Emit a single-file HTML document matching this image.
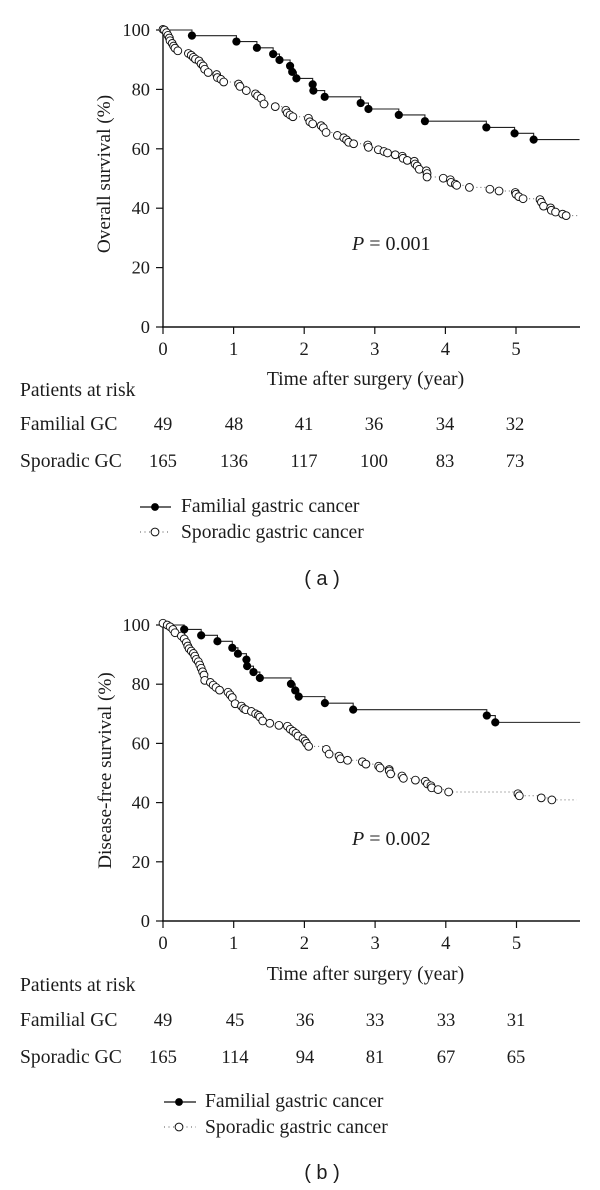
<!DOCTYPE html>
<html lang="en">
<head>
<meta charset="utf-8">
<title>Survival curves: familial vs sporadic gastric cancer</title>
<style>
html,body{margin:0;padding:0;background:#fff;}
#figure{display:block;width:600px;height:1190px;}
text{font-family:"Liberation Serif",serif;font-size:19.6px;fill:#1c1c1c;}
.tick{text-anchor:end;font-size:18.4px;}
.mid{text-anchor:middle;font-size:18.6px;}
.axis-title{text-anchor:middle;font-size:19.7px;}
.y-title{text-anchor:middle;font-size:19.25px;}
.legend-label{font-size:19.6px;}
.p-value{font-size:20px;}
.caption{font-family:"Liberation Sans",sans-serif;font-size:20px;text-anchor:middle;}
</style>
</head>
<body>
<svg id="figure" width="600" height="1190" viewBox="0 0 600 1190" xmlns="http://www.w3.org/2000/svg">
  <rect x="0" y="0" width="600" height="1190" fill="#fff"/>
  <g id="panel-a"></g>
  <g id="panel-b"></g>

  <text transform="translate(110,174) rotate(-90)" class="y-title">Overall survival (%)</text>
  <text x="365.5" y="385" class="axis-title">Time after surgery (year)</text>
  <text x="352" y="250" class="p-value"><tspan font-style="italic">P</tspan> = 0.001</text>
  <text x="20" y="396">Patients at risk</text>
  <g>
    <text x="20" y="430">Familial GC</text>
    <text x="163" y="430" class="mid">49</text><text x="234" y="430" class="mid">48</text><text x="304" y="430" class="mid">41</text><text x="374" y="430" class="mid">36</text><text x="445" y="430" class="mid">34</text><text x="515" y="430" class="mid">32</text>
  </g>
  <g>
    <text x="20" y="467">Sporadic GC</text>
    <text x="163" y="467" class="mid">165</text><text x="234" y="467" class="mid">136</text><text x="304" y="467" class="mid">117</text><text x="374" y="467" class="mid">100</text><text x="445" y="467" class="mid">83</text><text x="515" y="467" class="mid">73</text>
  </g>
  <g>
    <g>
      <line x1="140" y1="507" x2="171" y2="507" stroke="#111" stroke-width="1.2"/>
      <circle cx="155" cy="507" r="3.9" fill="#000"/>
      <text x="181" y="512" class="legend-label">Familial gastric cancer</text>
    </g>
    <g>
      <line x1="140" y1="532" x2="171" y2="532" stroke="#555" stroke-width="1" stroke-dasharray="1 3.5"/>
      <circle cx="155" cy="532" r="3.9" fill="#fff" stroke="#111" stroke-width="1"/>
      <text x="181" y="538" class="legend-label">Sporadic gastric cancer</text>
    </g>
  </g>
  <text x="322" y="585" class="caption">( a )</text>

  <text transform="translate(111,770.5) rotate(-90)" class="y-title">Disease-free survival (%)</text>
  <text x="365.5" y="980" class="axis-title">Time after surgery (year)</text>
  <text x="352" y="845" class="p-value"><tspan font-style="italic">P</tspan> = 0.002</text>
  <text x="20" y="991">Patients at risk</text>
  <g>
    <text x="20" y="1026">Familial GC</text>
    <text x="163" y="1026" class="mid">49</text><text x="235" y="1026" class="mid">45</text><text x="305" y="1026" class="mid">36</text><text x="375" y="1026" class="mid">33</text><text x="446" y="1026" class="mid">33</text><text x="516" y="1026" class="mid">31</text>
  </g>
  <g>
    <text x="20" y="1063">Sporadic GC</text>
    <text x="163" y="1063" class="mid">165</text><text x="235" y="1063" class="mid">114</text><text x="305" y="1063" class="mid">94</text><text x="375" y="1063" class="mid">81</text><text x="446" y="1063" class="mid">67</text><text x="516" y="1063" class="mid">65</text>
  </g>
  <g>
    <g>
      <line x1="164" y1="1102" x2="196" y2="1102" stroke="#111" stroke-width="1.2"/>
      <circle cx="179" cy="1102" r="3.9" fill="#000"/>
      <text x="205" y="1107" class="legend-label">Familial gastric cancer</text>
    </g>
    <g>
      <line x1="164" y1="1127" x2="196" y2="1127" stroke="#555" stroke-width="1" stroke-dasharray="1 3.5"/>
      <circle cx="179" cy="1127" r="3.9" fill="#fff" stroke="#111" stroke-width="1"/>
      <text x="205" y="1133" class="legend-label">Sporadic gastric cancer</text>
    </g>
  </g>
  <text x="322" y="1179" class="caption">( b )</text>
</svg>
<script>
var xTickLabels = [0, 1, 2, 3, 4, 5];
var yTickLabels = [0, 20, 40, 60, 80, 100];

var familialTimesA = [0.41, 1.04, 1.33, 1.56, 1.65, 1.80, 1.83, 1.89, 2.12, 2.13, 2.29, 2.80, 2.91, 3.34, 3.71, 4.58, 4.98, 5.25];
var familialSurvivalA = [98.1, 96.1, 94.0, 91.9, 89.9, 87.9, 85.9, 83.7, 81.7, 79.6, 77.5, 75.4, 73.4, 71.4, 69.3, 67.2, 65.2, 63.1];
var familialEndA = 5.9;

var sporadicTimesA = [0.00, 0.02, 0.05, 0.07, 0.09, 0.10, 0.13, 0.15, 0.17, 0.21, 0.36, 0.40, 0.43, 0.46, 0.51, 0.54, 0.57, 0.59, 0.64, 0.76, 0.77, 0.82, 0.86, 1.07, 1.09, 1.18, 1.31, 1.34, 1.39, 1.43, 1.59, 1.74, 1.76, 1.80, 1.84, 2.06, 2.08, 2.12, 2.24, 2.27, 2.31, 2.47, 2.56, 2.60, 2.63, 2.70, 2.90, 2.91, 3.05, 3.13, 3.18, 3.29, 3.39, 3.40, 3.46, 3.56, 3.57, 3.60, 3.63, 3.73, 3.74, 3.74, 3.97, 4.07, 4.08, 4.14, 4.16, 4.34, 4.63, 4.76, 4.99, 5.00, 5.04, 5.10, 5.34, 5.36, 5.39, 5.49, 5.50, 5.56, 5.66, 5.71];
var sporadicSurvivalA = [100.2, 100.0, 99.1, 98.2, 97.3, 96.4, 95.5, 94.6, 93.9, 93.0, 92.1, 91.5, 90.8, 90.2, 89.6, 88.6, 87.9, 86.8, 85.7, 85.0, 84.0, 83.4, 82.5, 81.8, 81.0, 79.6, 78.5, 77.8, 77.0, 75.1, 74.2, 73.0, 72.1, 71.4, 70.8, 70.3, 69.1, 68.4, 67.8, 67.1, 65.5, 64.5, 63.7, 63.0, 62.2, 61.7, 61.3, 60.5, 59.7, 59.1, 58.6, 58.0, 57.5, 56.8, 56.1, 55.8, 54.9, 54.2, 53.1, 52.6, 51.7, 50.5, 50.1, 49.6, 48.7, 48.1, 47.7, 47.0, 46.4, 45.8, 45.3, 44.7, 43.9, 43.2, 42.9, 42.0, 40.7, 40.1, 39.3, 38.7, 38.0, 37.5];
var sporadicEndA = 5.88;

var familialTimesB = [0.30, 0.54, 0.77, 0.98, 1.06, 1.18, 1.19, 1.28, 1.37, 1.81, 1.87, 1.92, 2.29, 2.69, 4.58, 4.70];
var familialSurvivalB = [98.5, 96.5, 94.5, 92.3, 90.3, 88.3, 86.1, 84.1, 82.1, 80.1, 77.9, 75.8, 73.6, 71.4, 69.4, 67.1];
var familialEndB = 5.9;

var sporadicTimesB = [0.00, 0.06, 0.10, 0.14, 0.17, 0.26, 0.30, 0.33, 0.35, 0.37, 0.40, 0.43, 0.45, 0.47, 0.50, 0.52, 0.54, 0.56, 0.58, 0.59, 0.67, 0.71, 0.75, 0.80, 0.92, 0.95, 0.98, 1.02, 1.11, 1.14, 1.17, 1.25, 1.31, 1.35, 1.37, 1.41, 1.51, 1.64, 1.76, 1.80, 1.84, 1.88, 1.91, 1.98, 2.01, 2.03, 2.06, 2.31, 2.35, 2.49, 2.51, 2.61, 2.82, 2.87, 3.05, 3.07, 3.20, 3.20, 3.22, 3.38, 3.40, 3.57, 3.71, 3.74, 3.79, 3.80, 3.89, 4.04, 5.02, 5.04, 5.35, 5.50];
var sporadicSurvivalB = [100.6, 100.0, 99.4, 98.5, 97.4, 96.3, 95.3, 94.1, 92.9, 92.0, 91.2, 90.4, 89.5, 88.4, 87.6, 86.5, 85.4, 84.2, 83.1, 81.3, 80.6, 79.7, 78.9, 78.0, 77.3, 76.4, 75.5, 73.4, 72.6, 71.8, 71.4, 70.8, 70.0, 69.5, 68.9, 67.6, 66.8, 66.1, 65.8, 64.8, 64.1, 63.4, 62.5, 61.6, 60.8, 60.0, 59.0, 58.0, 56.4, 55.7, 54.8, 54.3, 53.8, 53.0, 52.3, 51.7, 51.2, 50.7, 49.7, 49.0, 48.2, 47.6, 47.2, 46.3, 45.7, 45.0, 44.4, 43.6, 43.0, 42.3, 41.6, 40.9];
var sporadicEndB = 5.85;

var SVG_NS = 'http://www.w3.org/2000/svg';

function svgEl(tag, attrs, parent) {
  var el = document.createElementNS(SVG_NS, tag);
  Object.keys(attrs).forEach(function (k) { el.setAttribute(k, attrs[k]); });
  parent.appendChild(el);
  return el;
}

function stepPath(times, survival, end, xScale, yScale) {
  var d = 'M' + xScale(0) + ' ' + yScale(100);
  var level = 100;
  for (var i = 0; i < times.length; i++) {
    d += 'L' + xScale(times[i]) + ' ' + yScale(level);
    level = survival[i];
    d += 'L' + xScale(times[i]) + ' ' + yScale(level);
  }
  d += 'L' + xScale(end) + ' ' + yScale(level);
  return d;
}

function drawPanel(id, y0, pxPerPct, pxPerYear, fTimes, fSurv, fEnd, sTimes, sSurv, sEnd, axisEnd) {
  var root = document.getElementById(id);
  var xScale = function (t) { return 163 + t * pxPerYear; };
  var yScale = function (s) { return y0 - s * pxPerPct; };

  var sLine = svgEl('path', { d: stepPath(sTimes, sSurv, sEnd, xScale, yScale), fill: 'none', stroke: '#666', 'stroke-width': 1, 'stroke-dasharray': '1 3' }, root);
  
  

  var fLine = svgEl('path', { d: stepPath(fTimes, fSurv, fEnd, xScale, yScale), fill: 'none', stroke: '#222', 'stroke-width': 1.1 }, root);
  
  

  var yAxis = svgEl('line', { x1: xScale(0), y1: yScale(100) - 1, x2: xScale(0), y2: yScale(0), stroke: '#111', 'stroke-width': 1.4 }, root);
  
  

  var xAxis = svgEl('line', { x1: xScale(0) - 1, y1: yScale(0), x2: axisEnd, y2: yScale(0), stroke: '#111', 'stroke-width': 1.4 }, root);
  
  

  yTickLabels.forEach(function (v) {
    var mark = svgEl('line', { x1: xScale(0) - 7, y1: yScale(v), x2: xScale(0), y2: yScale(v), stroke: '#111', 'stroke-width': 1.2 }, root);
    
    
    var label = svgEl('text', { x: 150, y: yScale(v) + 6, class: 'tick' }, root);
    
    
    label.textContent = v;
  });

  xTickLabels.forEach(function (v) {
    var mark = svgEl('line', { x1: xScale(v), y1: yScale(0), x2: xScale(v), y2: yScale(0) + 7, stroke: '#111', 'stroke-width': 1.2 }, root);
    
    
    var label = svgEl('text', { x: xScale(v), y: yScale(0) + 28, class: 'mid' }, root);
    
    
    label.textContent = v;
  });

  sTimes.forEach(function (t, i) {
    var p = svgEl('circle', { cx: xScale(t), cy: yScale(sSurv[i]), r: 3.9, fill: '#fff', stroke: '#111', 'stroke-width': 0.95 }, root);
    
    
  });

  fTimes.forEach(function (t, i) {
    var p = svgEl('circle', { cx: xScale(t), cy: yScale(fSurv[i]), r: 4.1, fill: '#000' }, root);
    
    
  });
}

drawPanel('panel-a', 327, 2.97, 70.6, familialTimesA, familialSurvivalA, familialEndA, sporadicTimesA, sporadicSurvivalA, sporadicEndA, 580);
drawPanel('panel-b', 921, 2.96, 70.7, familialTimesB, familialSurvivalB, familialEndB, sporadicTimesB, sporadicSurvivalB, sporadicEndB, 580);
</script>
</body>
</html>
